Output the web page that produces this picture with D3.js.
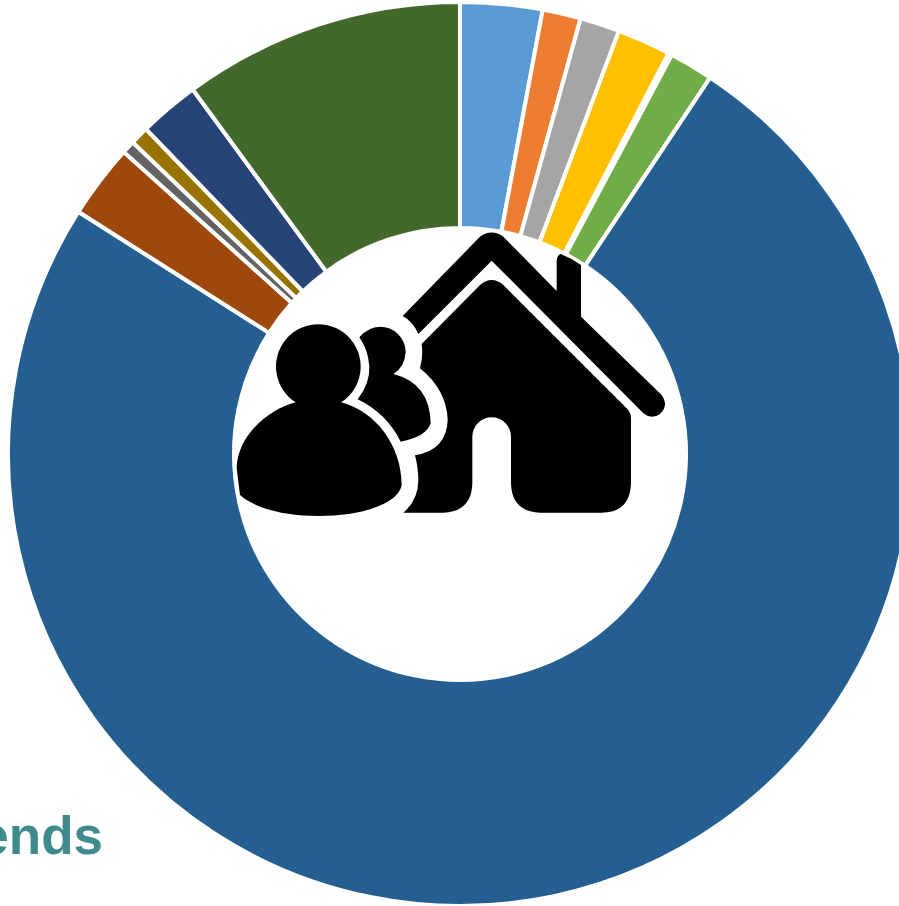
<!DOCTYPE html>
<html>
<head>
<meta charset="utf-8">
<style>
  html, body { margin: 0; padding: 0; background: #fff; overflow: hidden; }
  svg { display: block; }
</style>
<script src="https://cdn.jsdelivr.net/npm/d3@7"></script>
</head>
<body>
<svg id="chart" width="899" height="906"></svg>
<script>
// Share of each slice, in percent, clockwise from twelve o'clock
const shares = [2.93, 1.37, 1.42, 1.92, 0.125, 1.57, 74.67, 2.65, 0.46, 0.66, 2.16, 10.07];
const sliceColors = ["#5b9bd5", "#ed7d31", "#a5a5a5", "#ffc000", "#4472c4", "#70ad47",
                     "#255e91", "#9e480e", "#636363", "#997300", "#264478", "#43682b"];
const caption = "ends";

// Household pictogram outlines, drawn in a 3x grid
const houseRoof = "M518,288 L750,50 Q785,25 820,50 L980,213 L980,120 Q982,106 992,102 Q1025,115 1053,135 L1053,290 L1295,525 Q1318,555 1290,582 Q1265,600 1240,580 L785,122 L565,342 Q550,305 518,288 Z";
const houseBody = "M575,372 L750,195 Q785,165 820,195 L1195,570 Q1203,580 1203,595 L1203,790 Q1200,878 1115,878 L930,878 Q845,875 843,790 L843,650 A58,58 0 0 0 727,650 L727,790 Q725,875 640,878 L520,878 Q565,840 565,780 Q565,745 555,706 Q650,690 653,600 Q650,510 570,445 Q580,410 575,372 Z";
const frontPerson = "M197,547 A127,127 0 1 1 333,547 C440,575 515,680 515,795 C505,850 400,888 265,888 C150,888 70,860 30,825 L20,745 C22,650 110,570 197,547 Z";
const backPerson = "M388,352 Q415,320 450,320 A77,77 0 0 1 527,395 Q525,440 490,462 Q600,490 602,610 Q590,650 512,665 Q470,580 383,538 Q420,490 418,440 Q415,390 388,352 Z";

const svg = d3.select("#chart");
const center = [460, 454];

const pie = d3.pie().sort(null).value(d => d);
const arc = d3.arc().innerRadius(226).outerRadius(452);

svg.append("g")
  .attr("transform", `translate(${center[0]},${center[1]})`)
  .selectAll("path")
  .data(pie(shares))
  .join("path")
  .attr("d", arc)
  .attr("fill", (d, i) => sliceColors[i])
  .attr("stroke", "#fff")
  .attr("stroke-width", 4);

// Pictogram in the hole of the ring
svg.append("g")
  .attr("transform", "translate(230,220) scale(0.33333)")
  .selectAll("path")
  .data([houseRoof, houseBody, backPerson, frontPerson])
  .join("path")
  .attr("d", d => d)
  .attr("fill", "#000");

svg.append("text")
  .attr("x", 103)
  .attr("y", 854)
  .attr("text-anchor", "end")
  .attr("font-family", "'Liberation Sans', Arial, sans-serif")
  .attr("font-weight", "bold")
  .attr("font-size", 53)
  .attr("fill", "#3f8a8c")
  .text(caption);
</script>
</body>
</html>
